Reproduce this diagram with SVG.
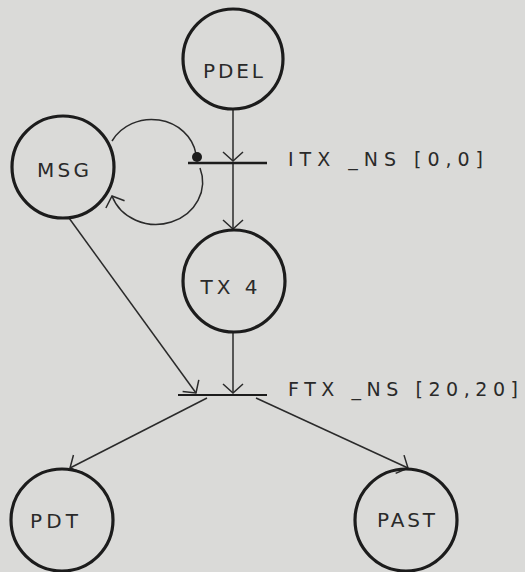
<svg xmlns="http://www.w3.org/2000/svg" width="525" height="572" viewBox="0 0 525 572">
<style>
.place{fill:none;stroke:#1c1c1c;stroke-width:3.2}
.lbl{font-family:"DejaVu Sans","Liberation Sans",sans-serif;font-size:20px;fill:#2a2a2a;text-anchor:middle}
.tl{font-family:"DejaVu Sans","Liberation Sans",sans-serif;font-size:19px;fill:#2a2a2a}
.arc{fill:none;stroke:#2a2a2a;stroke-width:1.5}
.bar{stroke:#1c1c1c;stroke-width:2.5}
</style>
<defs>
<marker id="v" viewBox="-12 -12 14 24" markerWidth="14" markerHeight="24" refX="0" refY="0" orient="auto" markerUnits="userSpaceOnUse">
<path d="M-9,-10 L0,0 L-9,10" fill="none" stroke="#2a2a2a" stroke-width="1.5"/>
</marker>
</defs>
<rect width="525" height="572" fill="#dadad8"/>
<g id="connectors">
<line class="arc" x1="233" y1="108" x2="233" y2="161" marker-end="url(#v)"/>
<line class="arc" x1="233" y1="164" x2="233" y2="229" marker-end="url(#v)"/>
<line class="arc" x1="233" y1="332" x2="233" y2="393" marker-end="url(#v)"/>
<line class="arc" x1="69" y1="218" x2="196" y2="393" marker-end="url(#v)"/>
<line class="arc" x1="207" y1="398" x2="70" y2="468" marker-end="url(#v)"/>
<line class="arc" x1="256" y1="398" x2="408" y2="468" marker-end="url(#v)"/>
<path class="arc" d="M112,141 A45,41 0 0 1 196,154"/>
<circle cx="197" cy="157" r="5" fill="#1c1c1c"/>
<path class="arc" d="M200,168 A45,41 0 0 1 112,196" marker-end="url(#v)"/>
</g>
<g id="ITX_NS">
<line class="bar" x1="188" y1="163" x2="267" y2="163"/>
<text class="tl" x="288" y="166" textLength="195" lengthAdjust="spacing">ITX _NS [0,0]</text>
</g>
<g id="FTX_NS">
<line class="bar" x1="178" y1="395" x2="267" y2="395" style="stroke-width:2"/>
<text class="tl" x="288" y="396" textLength="230" lengthAdjust="spacing">FTX _NS [20,20]</text>
</g>
<g id="PDEL">
<circle class="place" cx="233" cy="59" r="50"/>
<text class="lbl" x="233" y="78" textLength="60" lengthAdjust="spacing">PDEL</text>
</g>
<g id="MSG">
<circle class="place" cx="63" cy="167" r="51"/>
<text class="lbl" x="63" y="177" textLength="52" lengthAdjust="spacing">MSG</text>
</g>
<g id="TX4">
<circle class="place" cx="234" cy="281" r="51"/>
<text class="lbl" x="229" y="294" textLength="57" lengthAdjust="spacing">TX 4</text>
</g>
<g id="PDT">
<circle class="place" cx="62" cy="520" r="51"/>
<text class="lbl" x="54" y="528" textLength="48" lengthAdjust="spacing">PDT</text>
</g>
<g id="PAST">
<circle class="place" cx="406" cy="520" r="51"/>
<text class="lbl" x="406" y="527" textLength="58" lengthAdjust="spacing">PAST</text>
</g>
</svg>
